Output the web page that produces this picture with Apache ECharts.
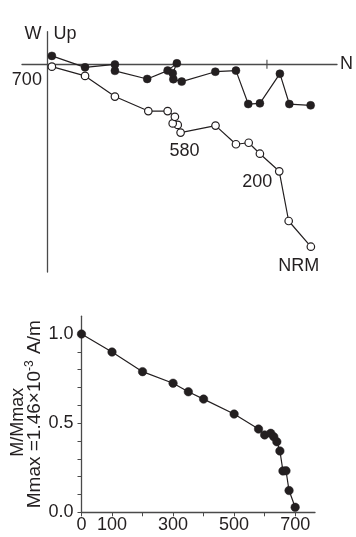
<!DOCTYPE html>
<html>
<head>
<meta charset="utf-8">
<script src="https://cdn.jsdelivr.net/npm/echarts@6/dist/echarts.min.js"></script>
<style>
html,body{margin:0;padding:0;background:#fff}
#chart{width:356px;height:537px}
</style>
</head>
<body>
<div id="chart"></div>
<script>
// Zijderveld diagram, units of 1e-3 A/m, order NRM -> 700 C
// filled = horizontal plane [N, W], open = vertical plane [N, Up]
var horizPoints = [
    [1.199,-0.187],[1.102,-0.181],[1.059,-0.043],[0.968,-0.178],[0.915,-0.181],
    [0.859,-0.029],[0.765,-0.034],[0.612,-0.079],[0.574,-0.068],[0.571,-0.041],
    [0.590,0.004],[0.548,-0.029],[0.455,-0.067],[0.308,-0.030],[0.308,-0.001],
    [0.172,-0.014],[0.021,0.038]
];
var vertPoints = [
    [1.200,-0.830],[1.099,-0.713],[1.056,-0.487],[0.968,-0.407],[0.917,-0.357],
    [0.859,-0.364],[0.766,-0.279],[0.607,-0.311],[0.594,-0.276],[0.571,-0.269],
    [0.581,-0.239],[0.548,-0.213],[0.460,-0.213],[0.308,-0.147],[0.172,-0.053],
    [0.021,-0.011]
];
// step labels on the open points (index -> text)
var stepLabels = {0:'NRM', 2:'200', 7:'580', 15:'700'};
var unitTick = [1.0];

// thermal demagnetization curve
var demagTemps = [0,100,200,300,350,400,500,580,600,620,630,640,650,660,670,680,700];
var demagRatio = [1.0,0.899,0.789,0.724,0.676,0.635,0.551,0.467,0.434,0.443,0.424,0.396,0.344,0.232,0.233,0.122,0.028];
var tempLabels = [0,100,300,500,700];
var tempTicks = [0,100,200,300,400,500,600,700];
var ratioLabels = [0,0.5,1.0];
var ratioTicks = [0,0.1,0.2,0.3,0.4,0.5,0.6,0.7,0.8,0.9,1.0];

var ink = '#231f20';
var axisCol = '#4a4a4a';
var font = 'Liberation Sans, Arial, sans-serif';
var fs = 18;

// label offsets for the step labels
var labelOffsets = {0:[-12,19], 2:[-22,11], 7:[4,18], 15:[-25,13]};

var openData = vertPoints.map(function(p, i){
    var item = {value:p};
    if (stepLabels[i]) {
        item.label = {show:true, formatter:stepLabels[i], position:'inside',
            align:'center', verticalAlign:'middle',
            offset:labelOffsets[i], color:ink, fontSize:fs, fontFamily:font};
    }
    return item;
});

var chart = echarts.init(document.getElementById('chart'));
chart.setOption({
    backgroundColor:'#fff',
    animation:false,
    grid:[
        {left:22, right:19, top:31.7, bottom:265},
        {left:81.5, right:41, top:316.2, bottom:24.7}
    ],
    xAxis:[
        {
            gridIndex:0, type:'value', min:-0.115, max:1.319,
            axisLine:{onZero:true, lineStyle:{color:axisCol, width:1.3}},
            axisTick:{show:false}, axisLabel:{show:false}, splitLine:{show:false},
            name:'N', nameLocation:'end', nameGap:3,
            nameTextStyle:{color:ink, fontSize:fs, fontFamily:font}
        },
        {
            gridIndex:1, type:'value', min:0, max:765,
            axisLine:{onZero:false, lineStyle:{color:axisCol, width:1.3}},
            axisTick:{show:true, length:4, customValues:tempTicks, lineStyle:{color:axisCol}},
            axisLabel:{customValues:tempLabels, color:ink, fontSize:fs, fontFamily:font, margin:4},
            splitLine:{show:false}
        }
    ],
    yAxis:[
        {
            gridIndex:0, type:'value', min:-0.945, max:0.148,
            axisLine:{onZero:true, lineStyle:{color:axisCol, width:1.3}},
            axisTick:{show:false}, axisLabel:{show:false}, splitLine:{show:false}
        },
        {
            gridIndex:1, type:'value', min:0, max:1.1,
            axisLine:{onZero:false, lineStyle:{color:axisCol, width:1.3}},
            axisTick:{show:true, length:4, customValues:ratioTicks, lineStyle:{color:axisCol}},
            axisLabel:{customValues:ratioLabels, color:ink, fontSize:fs, fontFamily:font, margin:8,
                formatter:function(v){return v.toFixed(1);}},
            splitLine:{show:false},
            name:'{a|Mmax =1.46×10}{s|-3}{a| A/m}', nameLocation:'middle', nameGap:37,
            nameMoveOverlap:false,
            nameTextStyle:{rich:{
                a:{color:ink, fontSize:19, fontFamily:font, lineHeight:20},
                s:{color:ink, fontSize:12, fontFamily:font, lineHeight:20, padding:[0,1,10,0]}
            }}
        },
        {
            // first title line only
            gridIndex:1, type:'value', min:0, max:1.1, position:'left',
            axisLine:{show:false}, axisTick:{show:false}, axisLabel:{show:false}, splitLine:{show:false},
            name:'M/Mmax', nameLocation:'middle', nameGap:54, nameMoveOverlap:false,
            nameTextStyle:{color:ink, fontSize:18, fontFamily:font, lineHeight:18, padding:[0,16,0,0]}
        }
    ],
    graphic:[
        {type:'text', x:33, y:34, style:{text:'W', fill:ink, font:fs+'px '+font, align:'center', verticalAlign:'middle'}},
        {type:'text', x:65, y:34, style:{text:'Up', fill:ink, font:fs+'px '+font, align:'center', verticalAlign:'middle'}}
    ],
    series:[
        {
            type:'line', xAxisIndex:0, yAxisIndex:0, data:horizPoints,
            symbol:'circle', symbolSize:8,
            lineStyle:{color:ink, width:1.2},
            itemStyle:{color:ink, borderColor:ink, borderWidth:0.5},
            z:3
        },
        {
            type:'line', xAxisIndex:0, yAxisIndex:0, data:openData,
            symbol:'circle', symbolSize:7.5,
            lineStyle:{color:ink, width:1.2},
            itemStyle:{color:'#fff', borderColor:ink, borderWidth:1.2},
            z:4
        },
        {
            type:'scatter', xAxisIndex:0, yAxisIndex:0,
            data:unitTick.map(function(v){return [v,0];}),
            symbol:'rect', symbolSize:[1.4,9],
            itemStyle:{color:axisCol}, silent:true
        },
        {
            type:'line', xAxisIndex:1, yAxisIndex:1,
            data:demagTemps.map(function(t,i){return [t, demagRatio[i]];}),
            symbol:'circle', symbolSize:8.5,
            lineStyle:{color:ink, width:1.2},
            itemStyle:{color:ink, borderColor:ink, borderWidth:0.5}
        }
    ]
});
</script>
</body>
</html>
